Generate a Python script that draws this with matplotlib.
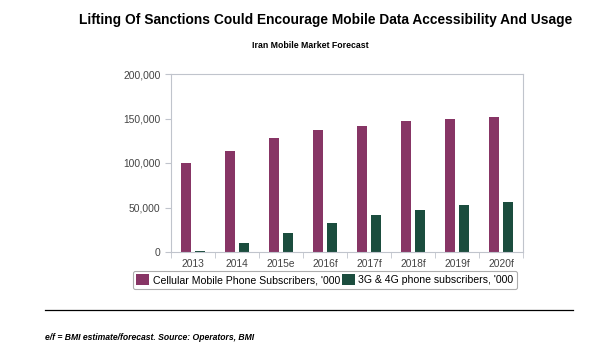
import numpy as np
import matplotlib.pyplot as plt
from matplotlib.ticker import FuncFormatter, FixedLocator

years = ['2013', '2014', '2015e', '2016f', '2017f', '2018f', '2019f', '2020f']
cellular = [100000, 113800, 128400, 137400, 141900, 147500, 149800, 152000]
broadband = [1500, 9700, 21700, 32900, 41900, 47500, 53100, 56500]

plt.rcParams['font.family'] = ['Liberation Sans', 'DejaVu Sans']

fig = plt.figure(figsize=(6.09, 3.61), dpi=100)
ax = fig.add_axes([171 / 609, 1 - 252 / 361, (523 - 171) / 609, (252 - 74) / 361])

x = np.arange(len(years))
w = 0.23
ax.bar(x - 0.15, cellular, w, color='#873565', label="Cellular Mobile Phone Subscribers, '000")
ax.bar(x + 0.15, broadband, w, color='#1b4d3e', label="3G & 4G phone subscribers, '000")

ax.set_xlim(-0.5, len(years) - 0.5)
ax.set_ylim(0, 200000)
ax.set_yticks([0, 50000, 100000, 150000, 200000])
ax.yaxis.set_major_formatter(FuncFormatter(lambda v, p: f'{int(v):,}'))
ax.set_xticks(x)
ax.set_xticklabels(years)
ax.xaxis.set_minor_locator(FixedLocator(np.arange(-0.5, len(years), 1)))
ax.tick_params(axis='x', which='major', length=0, labelsize=7.4, colors='#444444', pad=5)
ax.tick_params(axis='x', which='minor', length=4, color='#c0c4cc')
ax.tick_params(axis='y', length=4, color='#c0c4cc', labelsize=7.4, labelcolor='#444444')
for s in ax.spines.values():
    s.set_color('#c0c4cc')
    s.set_linewidth(0.8)

leg = ax.legend(loc='upper center', bbox_to_anchor=(0.4375, -0.105), ncol=2, fontsize=7.6,
                frameon=True, handlelength=1.2, handleheight=1.1, handletextpad=0.35,
                columnspacing=0.2, borderpad=0.35, borderaxespad=0, fancybox=True)
leg.get_frame().set_edgecolor('#999999')
leg.get_frame().set_linewidth(0.8)

fig.text(0.535, 0.945, 'Lifting Of Sanctions Could Encourage Mobile Data Accessibility And Usage',
         ha='center', va='center', fontsize=9.9, fontweight='bold')
fig.text(0.51, 0.875, 'Iran Mobile Market Forecast', ha='center', va='center',
         fontsize=6.3, fontweight='bold')

fig.add_artist(plt.Line2D([45 / 609, 573 / 609], [1 - 310 / 361, 1 - 310 / 361],
                          color='black', lw=0.9))
fig.text(45 / 609, 1 - 337 / 361, 'e/f = BMI estimate/forecast. Source: Operators, BMI',
         ha='left', va='center', fontsize=6.2, fontweight='bold', style='italic')

fig.savefig('out.png', dpi=100)
